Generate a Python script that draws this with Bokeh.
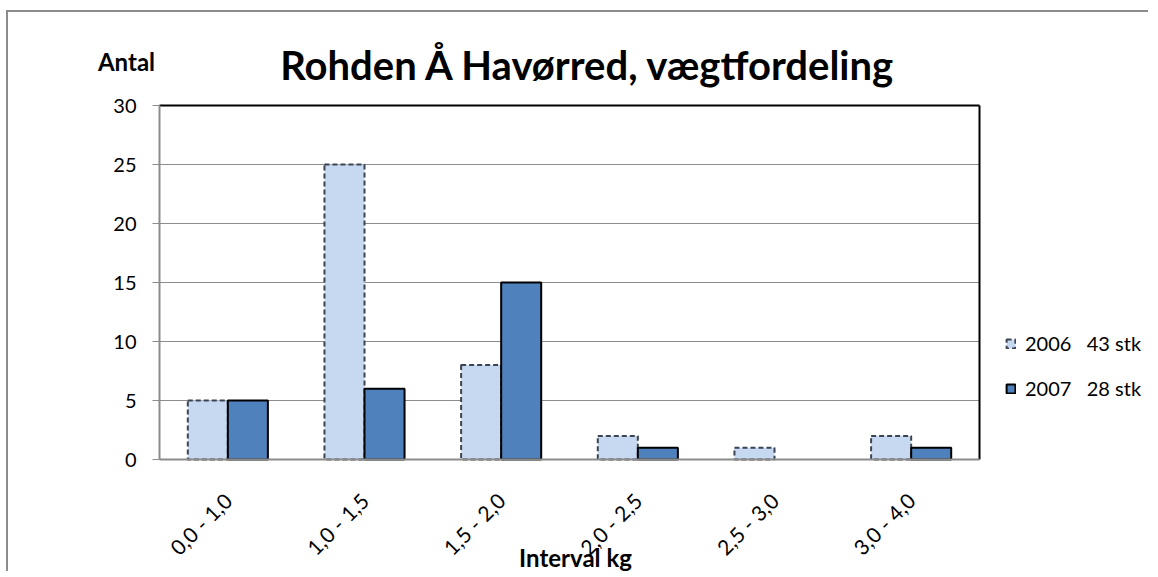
import numpy as np
from bokeh.plotting import figure
from bokeh.models import (Label, Legend, LegendItem, ColumnDataSource, FixedTicker, Range1d,
                          CDSView, BooleanFilter)
from bokeh.embed import file_html
from bokeh.resources import INLINE

categories = ["0,0 - 1,0", "1,0 - 1,5", "1,5 - 2,0", "2,0 - 2,5", "2,5 - 3,0", "3,0 - 4,0"]
counts_2006 = [5, 25, 8, 2, 1, 2]
counts_2007 = [5, 6, 15, 1, 0, 1]
series_labels = ["2006   43 stk", "2007   28 stk"]
y_ticks = [0, 5, 10, 15, 20, 25, 30]
title_text = "Rohden Å Havørred, vægtfordeling"
y_title = "Antal"
x_title = "Interval kg"

FONT = "Lato"
W, H = 1142, 561
# layout of the plot area inside the canvas (pixels)
PX_L, PX_R, PX_T, PX_B = 151, 971, 93, 447
n = len(categories)
ymax = y_ticks[-1]
ux = (PX_R - PX_L) / n
uy = (PX_B - PX_T) / ymax

x_range = Range1d(-PX_L / ux, (W - PX_L) / ux)
y_range = Range1d(-(H - PX_B) / uy, PX_B / uy)

p = figure(width=W, height=H, x_range=x_range, y_range=y_range,
           output_backend="svg", toolbar_location=None,
           min_border_left=0, min_border_right=0, min_border_top=0, min_border_bottom=0)
p.styles = {"border-left": "2px solid #8c8c8c", "border-top": "2px solid #8c8c8c",
            "margin-left": "6px", "margin-top": "10px"}
p.outline_line_color = None
p.xgrid.visible = False
p.ygrid.visible = False

centers = np.arange(n) + 0.5
bw = 0.293
src = ColumnDataSource(dict(x1=centers - bw / 2, x2=centers + bw / 2, a=counts_2006, b=counts_2007))

# horizontal gridlines inside the plot area
grid_src = ColumnDataSource(dict(y=y_ticks[1:-1], x0=[0] * (len(y_ticks) - 2), x1=[n] * (len(y_ticks) - 2)))
p.segment(x0="x0", x1="x1", y0="y", y1="y", source=grid_src, line_color="#8c8c8c", line_width=1)

r1 = p.vbar(x="x1", top="a", width=bw, source=src,
            view=CDSView(filter=BooleanFilter([v > 0 for v in counts_2006])),
            fill_color="#C6D9F1", line_color="#3b4452", line_width=2, line_dash="5 3")
r2 = p.vbar(x="x2", top="b", width=bw, source=src,
            view=CDSView(filter=BooleanFilter([v > 0 for v in counts_2007])),
            fill_color="#4F81BD", line_color="black", line_width=2)

# plot-area border: top and right in black
p.segment(x0=[0, n], y0=[ymax, 0], x1=[n, n], y1=[ymax, ymax], line_color="black", line_width=2)

yax = p.yaxis[0]
yax.fixed_location = 0
yax.bounds = (0, ymax)
yax.ticker = FixedTicker(ticks=y_ticks)
yax.minor_tick_line_color = None
yax.major_tick_in = 0
yax.major_tick_out = 7
yax.major_tick_line_color = "#8c8c8c"
yax.axis_line_color = "#8c8c8c"
yax.axis_line_width = 2
yax.major_label_text_font = FONT
yax.major_label_text_font_size = "20px"
yax.major_label_text_color = "black"
yax.major_label_standoff = 16

xax = p.xaxis[0]
xax.fixed_location = 0
xax.bounds = (0, n)
xax.ticker = FixedTicker(ticks=list(centers))
xax.major_label_overrides = {float(c): lab for c, lab in zip(centers, categories)}
xax.axis_line_color = "#8c8c8c"
xax.axis_line_width = 2
xax.major_tick_line_color = None
xax.minor_tick_line_color = None
xax.major_label_orientation = 0.785398
xax.major_label_text_font = FONT
xax.major_label_text_font_size = "21px"
xax.major_label_text_color = "black"
xax.major_label_standoff = 31

p.add_layout(Label(x=(588 - 159) / ux, y=(459 - 64) / uy, text=title_text,
                   text_font=FONT, text_font_style="bold", text_font_size="40px",
                   text_color="black", text_align="center", text_baseline="alphabetic"))
p.add_layout(Label(x=(126 - 159) / ux, y=(459 - 61) / uy, text=y_title,
                   text_font=FONT, text_font_style="bold", text_font_size="24px",
                   text_color="black", text_align="center", text_baseline="alphabetic"))
p.add_layout(Label(x=(575 - 159) / ux, y=(459 - 557) / uy, text=x_title,
                   text_font=FONT, text_font_style="bold", text_font_size="24px",
                   text_color="black", text_align="center", text_baseline="alphabetic"))

legend = Legend(items=[LegendItem(label=series_labels[0], renderers=[r1]),
                       LegendItem(label=series_labels[1], renderers=[r2])],
                location=(997, 173), orientation="vertical",
                label_text_font=FONT, label_text_font_size="20px", label_text_color="black",
                glyph_width=11, glyph_height=11, spacing=21, label_standoff=9,
                background_fill_alpha=0, border_line_color=None, padding=0, margin=0)
p.add_layout(legend, "center")

open("out.html", "w").write(file_html(p, INLINE))
